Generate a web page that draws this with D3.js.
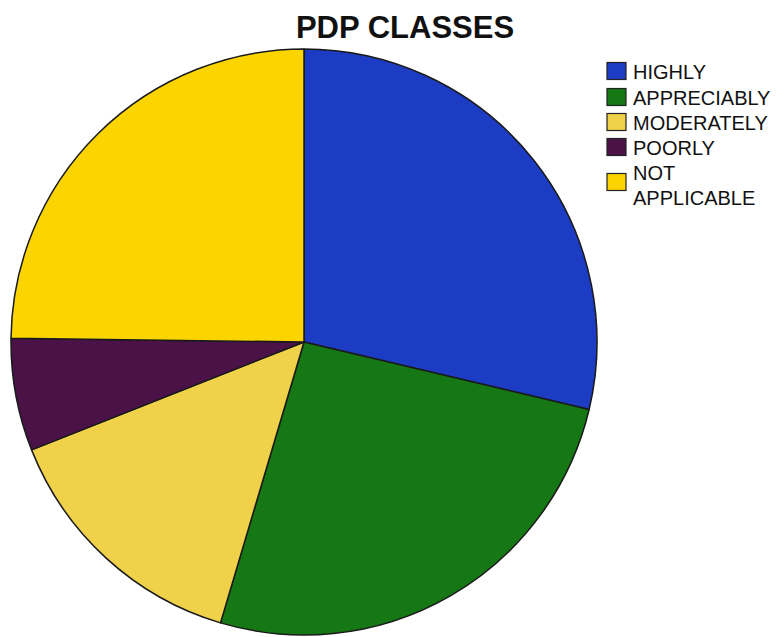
<!DOCTYPE html>
<html>
<head>
<meta charset="utf-8">
<script src="https://cdn.jsdelivr.net/npm/d3@7"></script>
<style>
  body { margin: 0; background: #fff; }
  text { font-family: "Liberation Sans", Arial, sans-serif; }
</style>
</head>
<body>
<svg id="chart"></svg>
<script>
// data (percent of the pie)
const categories = ["HIGHLY", "APPRECIABLY", "MODERATELY", "POORLY", "NOT APPLICABLE"];
const values = [28.7, 25.9, 14.4, 6.2, 24.8];
const colors = ["#1c3cc4", "#157815", "#f0d24a", "#4a1246", "#fcd400"];
const title = "PDP CLASSES";

const width = 779, height = 637;
const cx = 304, cy = 342, radius = 293;

const svg = d3.select("#chart")
    .attr("width", width)
    .attr("height", height);

const color = d3.scaleOrdinal().domain(categories).range(colors);

const pie = d3.pie().sort(null).value(d => d.value);
const arc = d3.arc().innerRadius(0).outerRadius(radius);

const data = categories.map((c, i) => ({ name: c, value: values[i] }));

const g = svg.append("g")
    .attr("transform", `translate(${cx},${cy})`);

g.selectAll("path")
  .data(pie(data))
  .join("path")
    .attr("d", arc)
    .attr("fill", d => color(d.data.name))
    .attr("stroke", "#1a1a1a")
    .attr("stroke-width", 1.5)
    .attr("stroke-linejoin", "round");

svg.append("text")
    .attr("x", 405)
    .attr("y", 38)
    .attr("text-anchor", "middle")
    .style("font-size", "31px")
    .style("font-weight", "bold")
    .attr("fill", "#111")
    .text(title);

// legend
const legend = svg.append("g").attr("transform", "translate(607,0)");
const rowY = [71, 97, 122, 147, 182];

const items = legend.selectAll("g.item")
  .data(categories)
  .join("g")
    .attr("class", "item")
    .attr("transform", (d, i) => `translate(0,${rowY[i]})`);

items.append("rect")
    .attr("x", 0)
    .attr("y", -8.5)
    .attr("width", 19)
    .attr("height", 17)
    .attr("fill", d => color(d))
    .attr("stroke", "#222")
    .attr("stroke-width", 1.2);

items.each(function(d) {
  const words = d === "NOT APPLICABLE" ? ["NOT", "APPLICABLE"] : [d];
  const t = d3.select(this).append("text")
      .attr("x", 26)
      .style("font-size", "20px")
      .attr("fill", "#111");
  words.forEach((w, k) => {
    t.append("tspan")
      .attr("x", 26)
      .attr("y", words.length > 1 ? (k === 0 ? -2.5 : 22.5) : 7.5)
      .text(w);
  });
});
</script>
</body>
</html>
